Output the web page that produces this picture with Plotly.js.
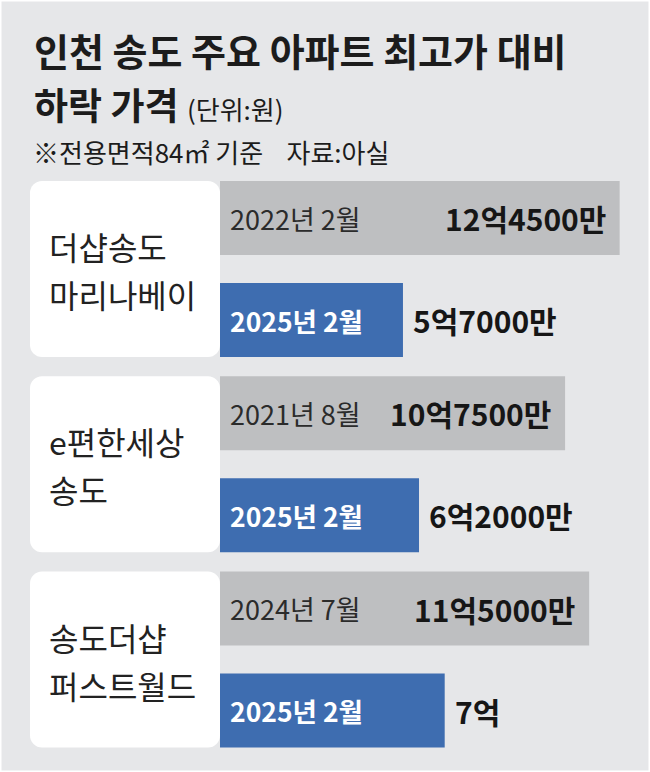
<!DOCTYPE html>
<html>
<head>
<meta charset="utf-8">
<script src="https://cdn.plot.ly/plotly-3.0.1.min.js"></script>
<style>html,body{margin:0;padding:0;background:#e6e7e9}</style>
</head>
<body>
<div id="chart" style="width:650px;height:772px"></div>
<script>
// 단지 (두 줄로 표기)
const complexes = ["더샵송도 마리나베이", "e편한세상 송도", "송도더샵 퍼스트월드"];
const nameLine1 = ["더샵송도", "e편한세상", "송도더샵"];
const nameLine2 = ["마리나베이", "송도", "퍼스트월드"];

// 최고가 (억원)
const peakDates = ["2022년 2월", "2021년 8월", "2024년 7월"];
const peakPrices = [12.45, 10.75, 11.5];
const peakLabels = ["12억4500만", "10억7500만", "11억5000만"];

// 2025년 2월 거래가 (억원)
const nowDates = ["2025년 2월", "2025년 2월", "2025년 2월"];
const nowPrices = [5.7, 6.2, 7];
const nowLabels = ["5억7000만", "6억2000만", "7억"];

const KR = "'Noto Sans CJK KR', sans-serif";

// geometry (px)
const W = 650, H = 772;
const PX_PER_EOK = 32.1;
const ZERO_X = 220;
const PANEL_X = 30;
const PITCH = 195.3;
const FIRST_CENTER = 269;
const BAR_H = 74, GAP = 28;

const xRange = [-ZERO_X / PX_PER_EOK, (W - ZERO_X) / PX_PER_EOK];
const yTop = -FIRST_CENTER / PITCH;
const yRange = [yTop + H / PITCH, yTop];

const barW = BAR_H / PITCH;
const groupH = (2 * BAR_H + GAP) / PITCH;
const peakOffset = -groupH / 2;
const nowOffset = peakOffset + (BAR_H + GAP) / PITCH;
const panelLeft = -(ZERO_X - PANEL_X) / PX_PER_EOK;

let data = [
    {   // white name panels
        type: "bar", orientation: "h",
        y: complexes, x: complexes.map(() => panelLeft), base: 0,
        width: groupH, offset: peakOffset,
        marker: { color: "#ffffff", cornerradius: 12 },
        hoverinfo: "skip", showlegend: false
    },
    {
        type: "bar", orientation: "h", name: "최고가",
        y: complexes, x: peakPrices,
        width: barW, offset: peakOffset,
        marker: { color: "#bebfc1" },
        hoverinfo: "skip", showlegend: false
    },
    {
        type: "bar", orientation: "h", name: "2025년 2월",
        y: complexes, x: nowPrices,
        width: barW, offset: nowOffset,
        marker: { color: "#3e6db0" },
        hoverinfo: "skip", showlegend: false
    }
];

let annotations = [
    {
        xref: "paper", yref: "paper", x: 32 / W, y: 1 - 49 / H,
        xanchor: "left", yanchor: "middle", showarrow: false,
        text: "인천 송도 주요 아파트 최고가 대비",
        font: { family: KR, size: 38, color: "#1c1c1c", weight: "bold" }
    },
    {
        xref: "paper", yref: "paper", x: 32 / W, y: 1 - 104 / H,
        xanchor: "left", yanchor: "middle", showarrow: false,
        text: "하락 가격 <span style='font-size:26px;font-weight:normal'>(단위:원)</span>",
        font: { family: KR, size: 37, color: "#1c1c1c", weight: "bold" }
    },
    {
        xref: "paper", yref: "paper", x: 31 / W, y: 1 - 151 / H,
        xanchor: "left", yanchor: "middle", showarrow: false,
        text: "※전용면적84㎡ 기준\u00a0\u00a0\u00a0\u00a0자료:아실",
        font: { family: KR, size: 26, color: "#1c1c1c" }
    }
];

complexes.forEach((c, i) => {
    const yPeak = i + peakOffset + barW / 2;
    const yNow = i + nowOffset + barW / 2;
    annotations.push(
        { x: (PANEL_X + 17) / W, xref: "paper", y: i, yshift: 23, xanchor: "left", showarrow: false,
          text: nameLine1[i], font: { family: KR, size: 32, color: "#222" } },
        { x: (PANEL_X + 17) / W, xref: "paper", y: i, yshift: -25, xanchor: "left", showarrow: false,
          text: nameLine2[i], font: { family: KR, size: 32, color: "#222" } },
        { x: 0, y: yPeak, xanchor: "left", xshift: 8, showarrow: false,
          text: peakDates[i], font: { family: KR, size: 27, color: "#2b2b2b" } },
        { x: peakPrices[i], y: yPeak, xanchor: "right", xshift: -12, showarrow: false,
          text: peakLabels[i], font: { family: KR, size: 30, color: "#161616", weight: "bold" } },
        { x: 0, y: yNow, xanchor: "left", xshift: 8, showarrow: false,
          text: nowDates[i], font: { family: KR, size: 26.5, color: "#ffffff", weight: "bold" } },
        { x: nowPrices[i], y: yNow, xanchor: "left", xshift: 8, showarrow: false,
          text: nowLabels[i], font: { family: KR, size: 30, color: "#161616", weight: "bold" } }
    );
});

let layout = {
    width: W,
    height: H,
    margin: { t: 0, b: 0, l: 0, r: 0 },
    paper_bgcolor: "#e6e7e9",
    plot_bgcolor: "#e6e7e9",
    barmode: "overlay",
    showlegend: false,
    xaxis: { range: xRange, visible: false, fixedrange: true },
    yaxis: { type: "category", range: yRange, visible: false, fixedrange: true },
    annotations: annotations,
    shapes: [{
        type: "rect", xref: "paper", yref: "paper", x0: 0, x1: 1, y0: 0, y1: 1,
        line: { color: "#ffffff", width: 3 }, layer: "above"
    }]
};

Plotly.newPlot("chart", data, layout, { staticPlot: true, displayModeBar: false });
</script>
</body>
</html>
